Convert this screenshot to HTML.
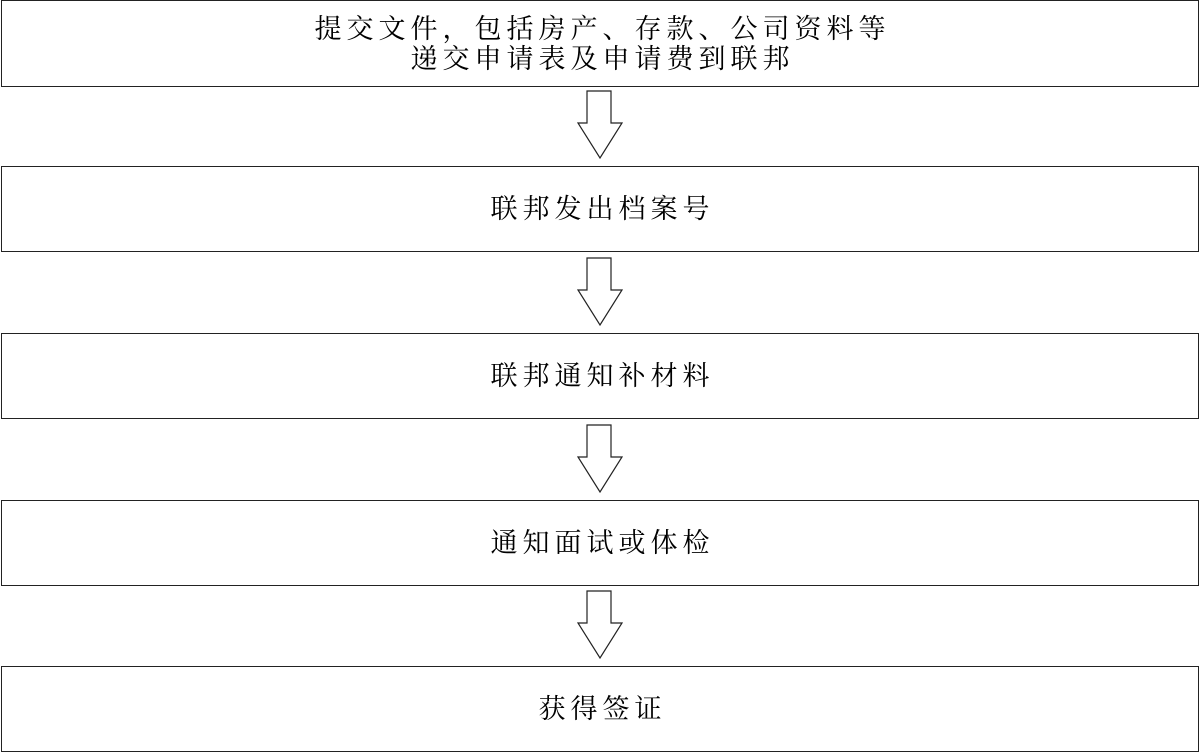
<!DOCTYPE html>
<html><head><meta charset="utf-8"><style>
html,body{margin:0;padding:0;background:#fff;width:1200px;height:752px;overflow:hidden;position:relative}
.b{position:absolute;left:1px;width:1198px;border:1.5px solid #222;display:flex;flex-direction:column;align-items:center;justify-content:center;font-family:"Liberation Serif","Noto Serif CJK SC",serif;font-size:27px;letter-spacing:5px;color:#000;line-height:30px;box-sizing:border-box;height:86px}
.b div{margin-right:-5px}
svg{position:absolute;left:0;top:0}
</style></head><body>
<div class="b" style="top:0px;height:87px"><div>提交文件，包括房产、存款、公司资料等</div><div>递交申请表及申请费到联邦</div></div>
<div class="b" style="top:166px"><div>联邦发出档案号</div></div>
<div class="b" style="top:333px"><div>联邦通知补材料</div></div>
<div class="b" style="top:500px"><div>通知面试或体检</div></div>
<div class="b" style="top:666px"><div>获得签证</div></div>
<svg width="1200" height="752">
<g fill="#fff" stroke="#222" stroke-width="1.2">
<polygon points="587,91 611,91 611,123 622,123 600,158 578,123 587,123"/>
<polygon points="587,258 611,258 611,290 622,290 600,325 578,290 587,290"/>
<polygon points="587,425 611,425 611,457 622,457 600,492 578,457 587,457"/>
<polygon points="587,591 611,591 611,623 622,623 600,658 578,623 587,623"/>
</g></svg>
</body></html>
